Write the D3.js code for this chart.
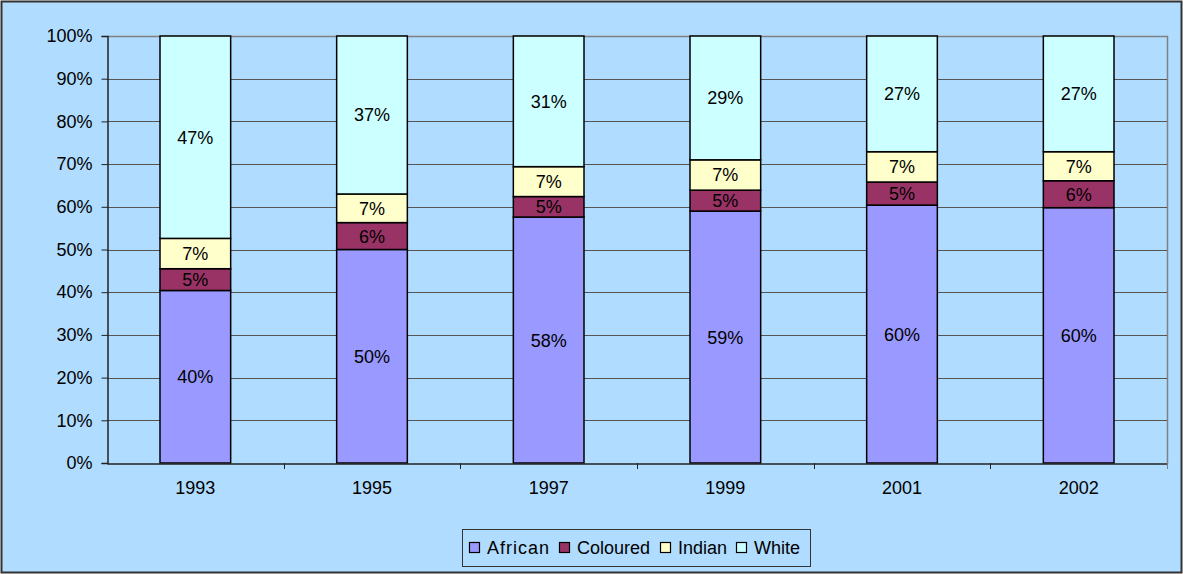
<!DOCTYPE html>
<html>
<head>
<meta charset="utf-8">
<script src="https://cdn.jsdelivr.net/npm/d3@7"></script>
<style>
  html, body { margin: 0; padding: 0; background: #fff; }
  svg { display: block; font-family: "Liberation Sans", Arial, sans-serif; }
</style>
</head>
<body>
<div id="chart"></div>
<script>
// data (percent of total)
const years = ["1993", "1995", "1997", "1999", "2001", "2002"];
const seriesNames = ["African", "Coloured", "Indian", "White"];
const african = [40.4, 50.0, 57.6, 59.0, 60.4, 59.8];
const coloured = [5.1, 6.3, 4.8, 4.9, 5.4, 6.3];
const indian = [7.1, 6.7, 7.0, 7.1, 7.1, 6.8];
const white = [47.4, 37.0, 30.6, 29.0, 27.1, 27.1];
const yTicks = [0, 0.1, 0.2, 0.3, 0.4, 0.5, 0.6, 0.7, 0.8, 0.9, 1.0];

const colors = ["#9999ff", "#993366", "#ffffcc", "#ccffff"];
const fs = 18;

const W = 1183, H = 574;
const margin = {top: 36, right: 16, bottom: 111, left: 107};
const width = W - margin.left - margin.right;
const height = H - margin.top - margin.bottom;

const svg = d3.select("#chart").append("svg")
    .attr("width", W)
    .attr("height", H);

// outer chart area
svg.append("rect")
    .attr("x", 1.5).attr("y", 1.5)
    .attr("width", W - 3).attr("height", H - 3)
    .attr("fill", "#b0dcff")
    .attr("stroke", "#333")
    .attr("stroke-width", 2);

const g = svg.append("g")
    .attr("transform", `translate(${margin.left},${margin.top})`);

// build rows for the stack
const rows = years.map((yr, i) => ({
    year: yr,
    African: african[i],
    Coloured: coloured[i],
    Indian: indian[i],
    White: white[i]
}));
rows.forEach(r => {
    const tot = r.African + r.Coloured + r.Indian + r.White;
    seriesNames.forEach(k => r[k] = r[k] / tot);
});

const x = d3.scaleBand().domain(years).range([0, width]).paddingInner(0.6).paddingOuter(0.3);
const xOuter = d3.scaleBand().domain(years).range([0, width]);
const y = d3.scaleLinear().domain([0, 1]).range([height, 0]);

// plot border (gray) on top and right
g.append("path")
    .attr("d", `M0.5,0.5H${width + 0.5}V${height + 0.5}`)
    .attr("fill", "none")
    .attr("stroke", "#808080")
    .attr("stroke-width", 1.5);

// gridlines
g.append("g")
    .selectAll("line")
    .data(yTicks.slice(1, -1))
    .join("line")
    .attr("x1", 0).attr("x2", width)
    .attr("y1", d => Math.round(y(d)) + 0.5)
    .attr("y2", d => Math.round(y(d)) + 0.5)
    .attr("stroke", "#555")
    .attr("stroke-width", 1);

// bars
const stack = d3.stack().keys(seriesNames);
const layers = stack(rows);

const layerG = g.append("g").selectAll("g")
    .data(layers)
    .join("g")
    .attr("fill", (d, i) => colors[i]);

layerG.selectAll("rect")
    .data(d => d)
    .join("rect")
    .attr("x", d => x(d.data.year))
    .attr("y", d => y(d[1]))
    .attr("width", x.bandwidth())
    .attr("height", d => y(d[0]) - y(d[1]))
    .attr("stroke", "#000")
    .attr("stroke-width", 1.5);

// value labels
layerG.selectAll("text")
    .data(d => d)
    .join("text")
    .attr("x", d => x(d.data.year) + x.bandwidth() / 2)
    .attr("y", d => (y(d[0]) + y(d[1])) / 2)
    .attr("dy", "0.36em")
    .attr("text-anchor", "middle")
    .attr("font-size", fs)
    .attr("fill", "#000")
    .text(d => Math.round((d[1] - d[0]) * 100) + "%");

// y axis
const yAxis = g.append("g")
    .attr("transform", "translate(0.5,0)")
    .call(d3.axisLeft(y).tickValues(yTicks).tickSize(6).tickFormat(d3.format(".0%")));
yAxis.select(".domain").attr("stroke", "#222").attr("stroke-width", 1.5);
yAxis.selectAll(".tick line").attr("stroke", "#222");
yAxis.selectAll(".tick text")
    .attr("font-size", fs)
    .attr("font-family", "Liberation Sans, Arial, sans-serif")
    .attr("fill", "#000")
    .attr("x", -15);

// x axis
const xAxis = g.append("g")
    .attr("transform", `translate(0,${height + 0.5})`)
    .call(d3.axisBottom(xOuter).tickSize(0).tickSizeOuter(0));
xAxis.select(".domain").attr("stroke", "#222").attr("stroke-width", 1.5);
xAxis.selectAll(".tick text")
    .attr("font-size", fs)
    .attr("font-family", "Liberation Sans, Arial, sans-serif")
    .attr("fill", "#000")
    .attr("y", 0)
    .attr("dy", "1.68em");
// category separator ticks
g.append("g").selectAll("line")
    .data(years.slice(1).concat(["end"]))
    .join("line")
    .attr("x1", (d, i) => Math.round(xOuter.step() * (i + 1)) + 0.5)
    .attr("x2", (d, i) => Math.round(xOuter.step() * (i + 1)) + 0.5)
    .attr("y1", height)
    .attr("y2", height + 6)
    .attr("stroke", (d, i) => i === years.length - 1 ? "#808080" : "#222");

// legend
const legend = svg.append("g").attr("transform", "translate(462,529)");
legend.append("rect")
    .attr("x", 0.5).attr("y", 0.5)
    .attr("width", 348).attr("height", 37)
    .attr("fill", "#b0dcff")
    .attr("stroke", "#333")
    .attr("stroke-width", 1);

const legendX = [7, 97, 198, 274];
const items = legend.selectAll("g.item")
    .data(seriesNames)
    .join("g")
    .attr("class", "item")
    .attr("transform", (d, i) => `translate(${legendX[i]},19)`);
items.append("rect")
    .attr("x", 0.5).attr("y", -5.5)
    .attr("width", 10).attr("height", 10)
    .attr("fill", (d, i) => colors[i])
    .attr("stroke", "#000")
    .attr("stroke-width", 1.2);
items.append("text")
    .attr("x", 18)
    .attr("dy", "0.36em")
    .attr("font-size", fs)
    .attr("fill", "#000")
    .attr("letter-spacing", (d, i) => i === 0 ? "1px" : "0px")
    .text(d => d);
</script>
</body>
</html>
